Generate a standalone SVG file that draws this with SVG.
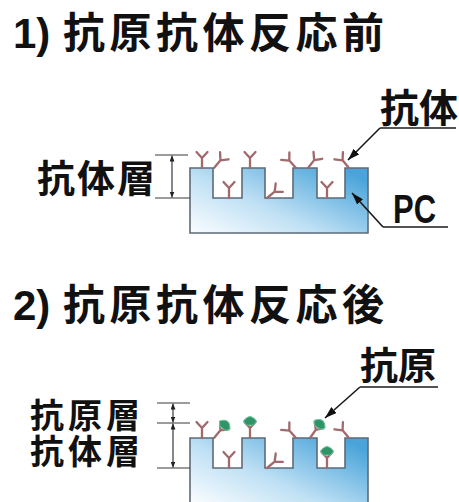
<svg xmlns="http://www.w3.org/2000/svg" xmlns:xlink="http://www.w3.org/1999/xlink" width="459" height="502" viewBox="0 0 459 502">
  <style>
    .ttl { font-family: "Noto Sans CJK JP", "Noto Sans", sans-serif; font-weight: bold; fill: #111; }
    .num { font-family: "Liberation Sans", Arial, sans-serif; font-weight: bold; }
    .lbl { font-family: "Noto Sans CJK JP", "Noto Sans", sans-serif; font-weight: bold; fill: #111; }
    .pc { font-family: "Liberation Sans", Arial, sans-serif; font-weight: bold; fill: #111; }
    .blk { fill: url(#pcFill); stroke: #5c6b78; stroke-width: 1.6; }
    .dim { stroke: #3a3a3a; stroke-width: 1.2; fill: none; }
    .lead { stroke: #1a1a1a; stroke-width: 1.6; fill: none; }
    .uline { stroke: #1a1a1a; stroke-width: 1.6; }
    .ab { stroke: #a06a6c; stroke-width: 2.3; stroke-linecap: round; stroke-linejoin: round; fill: none; }
    .agn { fill: #2f9468; stroke: #6cc39c; stroke-width: 1; }
  </style>
  <defs>
    <linearGradient id="pcFill" x1="0" y1="1" x2="1" y2="0.2">
      <stop offset="0" stop-color="#fbfdff"/>
      <stop offset="0.45" stop-color="#bfe0f4"/>
      <stop offset="1" stop-color="#4aa4da"/>
    </linearGradient>
    <marker id="arw" viewBox="0 0 12 8" refX="12" refY="4" markerWidth="12" markerHeight="8" markerUnits="userSpaceOnUse" orient="auto">
      <path d="M0,0 L12,4 L0,8 Z" fill="#111"/>
    </marker>
    <marker id="dimArw" viewBox="0 0 6 5" refX="6" refY="2.5" markerWidth="6" markerHeight="5" markerUnits="userSpaceOnUse" orient="auto-start-reverse">
      <path d="M0,0 L6,2.5 L0,5 Z" fill="#222"/>
    </marker>
    <!-- antibody: Y shape standing on its stem base at the origin -->
    <g id="ab">
      <path class="ab" d="M0,0 V-10 M0,-10 L-5.5,-16 M0,-10 L5.5,-16"/>
    </g>
    <!-- antibody with a bound antigen -->
    <g id="abAg">
      <use xlink:href="#ab"/>
      <path class="agn" d="M-6.5,-17 Q0,-26 6.5,-17 Q4,-11.5 0,-13 Q-4,-11.5 -6.5,-17 Z"/>
    </g>
  </defs>

  <rect width="459" height="502" fill="#ffffff"/>

  <!-- section 1: before reaction -->
  <g id="title1">
    <text class="ttl" x="13" y="48" font-size="42"><tspan class="num">1)</tspan><tspan x="63" letter-spacing="4.5">抗原抗体反応前</tspan></text>
  </g>

  <g id="pc1">
    <path class="blk" d="M190,233 V168 H213 V198 H242 V168 H265 V198 H293 V168 H317 V198 H345 V168 H368 V233 Z"/>
  </g>

  <g id="antibodies1">
    <use xlink:href="#ab" transform="translate(202,168)"/>
    <use xlink:href="#ab" transform="translate(214,168) rotate(40)"/>
    <use xlink:href="#ab" transform="translate(229,198)"/>
    <use xlink:href="#ab" transform="translate(250,168)"/>
    <use xlink:href="#ab" transform="translate(267,198) rotate(50)"/>
    <use xlink:href="#ab" transform="translate(296,168) rotate(-42)"/>
    <use xlink:href="#ab" transform="translate(308,168) rotate(38)"/>
    <use xlink:href="#ab" transform="translate(327,198)"/>
    <use xlink:href="#ab" transform="translate(349,168) rotate(-40)"/>
  </g>

  <g id="label-abLayer1">
    <text class="lbl" x="37" y="192" font-size="38" letter-spacing="2">抗体層</text>
  </g>
  <g id="dim1">
    <line class="dim" x1="155" y1="155" x2="188" y2="155"/>
    <line class="dim" x1="155" y1="198" x2="190" y2="198"/>
    <line class="dim" x1="172" y1="155.5" x2="172" y2="197.5" marker-start="url(#dimArw)" marker-end="url(#dimArw)"/>
  </g>

  <g id="label-antibody">
    <text class="lbl" x="380" y="122" font-size="39">抗体</text>
    <line class="uline" x1="380" y1="128" x2="456" y2="128"/>
  </g>
  <g id="label-pc">
    <text class="pc" x="393" y="223" font-size="41" textLength="43" lengthAdjust="spacingAndGlyphs">PC</text>
    <line class="uline" x1="383" y1="227" x2="448" y2="227"/>
  </g>

  <!-- section 2: after reaction -->
  <g id="title2">
    <text class="ttl" x="13" y="320" font-size="42"><tspan class="num">2)</tspan><tspan x="63" letter-spacing="4.5">抗原抗体反応後</tspan></text>
  </g>

  <g id="pc2">
    <path class="blk" d="M190,503 V438 H213 V468 H242 V438 H265 V468 H293 V438 H317 V468 H345 V438 H368 V503 Z"/>
  </g>

  <g id="antibodies2">
    <use xlink:href="#ab" transform="translate(202,438)"/>
    <use xlink:href="#abAg" transform="translate(214,438) rotate(40)"/>
    <use xlink:href="#ab" transform="translate(229,468)"/>
    <use xlink:href="#abAg" transform="translate(250,438)"/>
    <use xlink:href="#ab" transform="translate(267,468) rotate(50)"/>
    <use xlink:href="#ab" transform="translate(296,438) rotate(-42)"/>
    <use xlink:href="#abAg" transform="translate(310,438) rotate(35)"/>
    <use xlink:href="#abAg" transform="translate(327,468)"/>
    <use xlink:href="#ab" transform="translate(349,438) rotate(-40)"/>
  </g>

  <g id="label-layers2">
    <text class="lbl" font-size="34" letter-spacing="4"><tspan x="30" y="428">抗原層</tspan><tspan x="30" y="464">抗体層</tspan></text>
  </g>
  <g id="dim2">
    <line class="dim" x1="157" y1="403" x2="190" y2="403"/>
    <line class="dim" x1="157" y1="423" x2="190" y2="423"/>
    <line class="dim" x1="157" y1="468" x2="190" y2="468"/>
    <line class="dim" x1="173" y1="403.5" x2="173" y2="422.5" marker-start="url(#dimArw)" marker-end="url(#dimArw)"/>
    <line class="dim" x1="173" y1="423.5" x2="173" y2="467.5" marker-start="url(#dimArw)" marker-end="url(#dimArw)"/>
  </g>

  <g id="label-antigen">
    <text class="lbl" x="360" y="379" font-size="38">抗原</text>
    <line class="uline" x1="360" y1="387" x2="438" y2="387"/>
  </g>

  <!-- leader lines -->
  <g id="connectors">
    <path class="lead" d="M380,128 L348,160" marker-end="url(#arw)"/>
    <path class="lead" d="M383,227 L352,193" marker-end="url(#arw)"/>
    <path class="lead" d="M360,387 L325,418" marker-end="url(#arw)"/>
  </g>
</svg>
